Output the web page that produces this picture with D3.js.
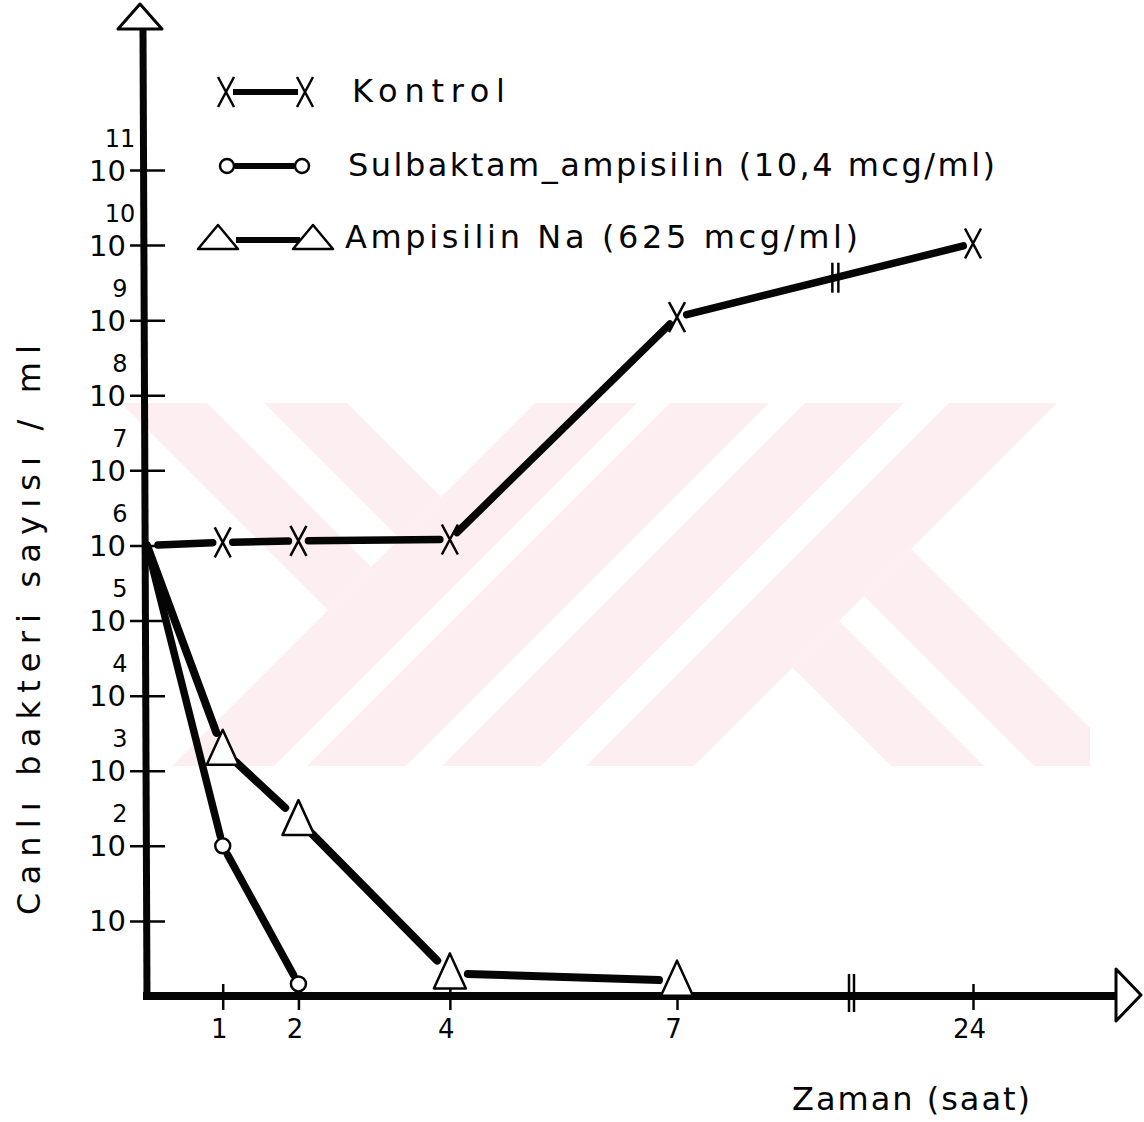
<!DOCTYPE html>
<html><head><meta charset="utf-8">
<script src="https://cdn.jsdelivr.net/npm/d3@7"></script>
<style>html,body{margin:0;padding:0;background:#fff;} svg{display:block;}</style>
</head><body>
<svg id="chart" width="1144" height="1122"></svg>
<script>
// ---- data ----
const kontrolHours = [0, 1, 2, 4, 7, 24];
const kontrol = [1e6, 1.1e6, 1.15e6, 1.2e6, 1.1e9, 1.05e10];
const sulbaktamHours = [0, 1, 2];
const sulbaktam = [1e6, 1e2, 1.45];
const ampisilinHours = [0, 1, 2, 4, 7];
const ampisilin = [1e6, 1.9e3, 2.2e2, 2.0, 1.6];
const xTickValues = [1, 2, 4, 7, 24];
const xTickLabels = ["1", "2", "4", "7", "24"];
const yTickExponents = [1, 2, 3, 4, 5, 6, 7, 8, 9, 10, 11];
const seriesNames = ["Kontrol", "Sulbaktam_ampisilin (10,4 mcg/ml)", "Ampisilin Na (625 mcg/ml)"];
const xTitle = "Zaman (saat)";
const yTitle = "Canlı  bakteri  sayısı / ml";

const svg = d3.select("#chart");
const FONT = "'DejaVu Sans', sans-serif";
const INK = "#050505";

// scales (broken time axis between 7 and 24 h)
const x = d3.scaleLinear().domain([0, 7, 24]).range([147, 677, 973]);
const y = d3.scaleLog().domain([1, 1e11]).range([996, 170]);

// ---- faint watermark in the background ----
const wm = svg.append("g");
svg.append("defs").append("clipPath").attr("id", "wmclip")
  .append("rect").attr("x", 110).attr("y", 403).attr("width", 980).attr("height", 363);
const bands = [
  [-3000, 938, -282, -196], [-3000, 938, -139, -56],
  [938, 1040, -3000, 3000], [1073, 1172, -3000, 3000],
  [1208, 1307, -3000, 3000], [1352, 1460, -3000, 3000],
  [1460, 4000, 125, 218], [1460, 4000, 268, 362]
];
const sc = (s, c) => [(s + c) / 2, (s - c) / 2];
wm.attr("clip-path", "url(#wmclip)").selectAll("polygon").data(bands).join("polygon")
  .attr("points", b => [sc(b[0], b[2]), sc(b[0], b[3]), sc(b[1], b[3]), sc(b[1], b[2])].map(p => p.join(",")).join(" "))
  .attr("fill", "#fdeef1");

// ---- axes ----
const yAxis = d3.axisLeft(y).tickValues(yTickExponents.map(e => Math.pow(10, e)))
  .tickSizeInner(35).tickSizeOuter(0).tickFormat("");
const gy = svg.append("g").attr("transform", "translate(165,0)").call(yAxis);
gy.select(".domain").remove();
gy.selectAll(".tick line").attr("stroke", INK).attr("stroke-width", 2.5);
gy.selectAll(".tick").each(function (v, i) {
  const e = yTickExponents[i];
  const g = d3.select(this);
  g.append("text").attr("x", -39).attr("y", 10).attr("text-anchor", "end")
    .attr("font-family", FONT).attr("font-size", 29).attr("fill", INK).text("10");
  if (e > 1) g.append("text").attr("x", -45).attr("y", -24).attr("text-anchor", "middle")
    .attr("font-family", FONT).attr("font-size", 24).attr("fill", INK).text(String(e));
});

const xAxis = d3.axisBottom(x).tickValues(xTickValues).tickSizeInner(14).tickSizeOuter(0)
  .tickFormat((d, i) => xTickLabels[i]);
const gx = svg.append("g").attr("transform", "translate(0,996)").call(xAxis);
gx.select(".domain").remove();
gx.selectAll(".tick line").attr("y1", -12).attr("stroke", INK).attr("stroke-width", 2.5);
gx.selectAll(".tick text").attr("font-family", FONT).attr("font-size", 26).attr("fill", INK)
  .attr("dx", -4).attr("y", 24).attr("dy", "0.71em");

// axis lines
svg.append("line").attr("x1", 147).attr("y1", 1000).attr("x2", 143).attr("y2", 30)
  .attr("stroke", INK).attr("stroke-width", 7);
svg.append("line").attr("x1", 143).attr("y1", 996).attr("x2", 1118).attr("y2", 996)
  .attr("stroke", INK).attr("stroke-width", 8);
// arrow heads
svg.append("path").attr("d", "M140,4 L118,29 L162,29 Z").attr("fill", "#fff")
  .attr("stroke", INK).attr("stroke-width", 3).attr("stroke-linejoin", "round");
svg.append("path").attr("d", "M1116,969 L1141,995 L1116,1021 Z").attr("fill", "#fff")
  .attr("stroke", INK).attr("stroke-width", 3).attr("stroke-linejoin", "round");
// axis break marks
const brk = 849;
[0, 5].forEach(o => svg.append("line").attr("x1", brk + o).attr("x2", brk + o).attr("y1", 974).attr("y2", 1012)
  .attr("stroke", INK).attr("stroke-width", 2.5));

// ---- series ----
function segments(hs, vs, firstGap, gap) {
  const pts = hs.map((h, i) => [x(h), y(vs[i])]);
  const segs = [];
  for (let i = 0; i < pts.length - 1; i++) {
    const [x0, y0] = pts[i], [x1, y1] = pts[i + 1];
    const L = Math.hypot(x1 - x0, y1 - y0), ux = (x1 - x0) / L, uy = (y1 - y0) / L;
    const g0 = i === 0 ? firstGap : gap;
    segs.push([[x0 + ux * g0, y0 + uy * g0], [x1 - ux * gap, y1 - uy * gap]]);
  }
  return { pts, segs };
}
const line = d3.line();
function drawLines(g, segs, w) {
  g.selectAll("path.seg").data(segs).join("path").attr("class", "seg")
    .attr("d", d => line(d)).attr("fill", "none").attr("stroke", INK)
    .attr("stroke-width", w).attr("stroke-linecap", "round");
}
const xMark = "M-8,-15 L8,15 M8,-15 L-8,15";
const triPath = "M0,-20 L-16,15 L16,15 Z";
const triLegend = "M0,-13 L-20,11 L20,11 Z";

// Kontrol
const gK = svg.append("g");
const K = segments(kontrolHours, kontrol, 11, 10);
drawLines(gK, K.segs, 7.5);
gK.selectAll("path.mk").data(K.pts.slice(1)).join("path").attr("class", "mk")
  .attr("transform", d => `translate(${d[0]},${d[1]})`).attr("d", xMark)
  .attr("stroke", INK).attr("stroke-width", 2.5).attr("fill", "none");
// break mark on the Kontrol line between 7 h and 24 h
{
  const a = K.pts[4], b = K.pts[5], f = 0.535;
  const bx = a[0] + (b[0] - a[0]) * f, by = a[1] + (b[1] - a[1]) * f;
  [-3, 3].forEach(o => gK.append("line").attr("x1", bx + o).attr("x2", bx + o)
    .attr("y1", by - 15).attr("y2", by + 15).attr("stroke", INK).attr("stroke-width", 2.5));
}

// Sulbaktam
const gS = svg.append("g");
const S = segments(sulbaktamHours, sulbaktam, 0, 10);
drawLines(gS, S.segs, 7.5);
gS.selectAll("circle").data(S.pts.slice(1)).join("circle")
  .attr("cx", d => d[0]).attr("cy", d => d[1]).attr("r", 7.5)
  .attr("fill", "#fff").attr("stroke", INK).attr("stroke-width", 2.5);

// Ampisilin
const gA = svg.append("g");
const A = segments(ampisilinHours, ampisilin, 0, 18);
drawLines(gA, A.segs, 8);
gA.selectAll("path.mk").data(A.pts.slice(1)).join("path").attr("class", "mk")
  .attr("transform", d => `translate(${d[0]},${d[1]})`).attr("d", triPath)
  .attr("fill", "#fff").attr("stroke", INK).attr("stroke-width", 2.5).attr("stroke-linejoin", "round");

// ---- legend ----
const legend = svg.append("g");
const rows = [92, 166, 238];
const textX = [352, 348, 345];
const textLen = [153, 647, 513];
legend.append("line").attr("x1", 233).attr("x2", 298).attr("y1", rows[0]).attr("y2", rows[0])
  .attr("stroke", INK).attr("stroke-width", 6);
[226, 305].forEach(cx => legend.append("path").attr("transform", `translate(${cx},${rows[0]})`)
  .attr("d", xMark).attr("stroke", INK).attr("stroke-width", 2.5).attr("fill", "none"));
legend.append("line").attr("x1", 235).attr("x2", 294).attr("y1", rows[1]).attr("y2", rows[1])
  .attr("stroke", INK).attr("stroke-width", 6);
[227, 302].forEach(cx => legend.append("circle").attr("cx", cx).attr("cy", rows[1]).attr("r", 7)
  .attr("fill", "#fff").attr("stroke", INK).attr("stroke-width", 2.5));
legend.append("line").attr("x1", 236).attr("x2", 300).attr("y1", rows[2] + 2).attr("y2", rows[2] + 2)
  .attr("stroke", INK).attr("stroke-width", 6);
[218, 313].forEach(cx => legend.append("path").attr("transform", `translate(${cx},${rows[2]})`)
  .attr("d", triLegend).attr("fill", "#fff").attr("stroke", INK).attr("stroke-width", 2.5)
  .attr("stroke-linejoin", "round"));
seriesNames.forEach((n, i) => legend.append("text").attr("x", textX[i]).attr("y", rows[i] + 10)
  .attr("font-family", FONT).attr("font-size", 32).attr("fill", INK)
  .attr("textLength", textLen[i]).attr("lengthAdjust", "spacing").text(n));

// ---- titles ----
svg.append("text").attr("x", 792).attr("y", 1110).attr("font-family", FONT).attr("font-size", 32)
  .attr("fill", INK).attr("textLength", 238).attr("lengthAdjust", "spacing").text(xTitle);
svg.append("text").attr("transform", "translate(40,915) rotate(-90)").attr("font-family", FONT)
  .attr("font-size", 32).attr("fill", INK).attr("textLength", 570).attr("lengthAdjust", "spacing").text(yTitle);
</script>
</body></html>
